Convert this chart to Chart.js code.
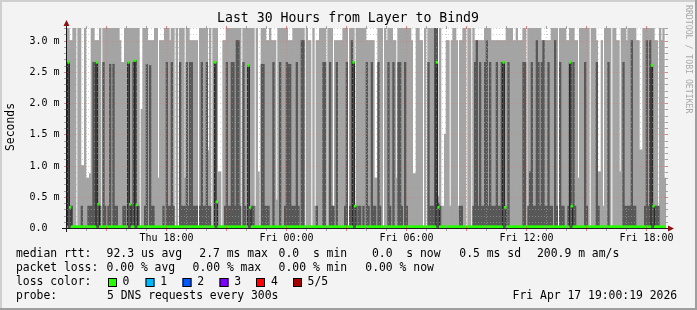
<!DOCTYPE html>
<html>
<head>
<meta charset="utf-8">
<script src="https://cdn.jsdelivr.net/npm/chart.js@4.4.1/dist/chart.umd.min.js"></script>
<style>
  html, body { margin: 0; padding: 0; background: #f3f3f3; }
  #wrap { width: 697px; height: 310px; }
</style>
</head>
<body>
<div id="wrap"><canvas id="rrd" width="697" height="310"></canvas></div>
<script>
// 360 steps of 5 minutes, Thu 13:00 -> Fri 19:00, values in ms
// smokeMax = slowest ping (top of light smoke), smokeInner = 4th ping (top of dark smoke)
var smokeMax = [
  3.4,3.4,3.0,3.0,3.4,3.4,0,3.4,3.4,1.0, 1.0,3.4,0.8,0.8,0.87,3.4,3.4,3.0,3.0,3.0,
  3.4,0,3.4,3.4,3.4,3.4,3.4,3.4,3.4,3.4, 3.4,3.4,3.0,2.65,2.65,3.4,3.4,3.4,3.4,3.4,
  3.4,3.4,3.4,3.4,0,1.9,3.4,3.4,3.4,3.0, 3.0,3.0,3.0,3.4,3.4,0.8,3.0,3.0,3.0,3.4,
  3.4,3.4,3.0,3.4,3.4,0,3.4,0,3.4,3.4, 3.4,0.8,3.4,3.4,3.0,3.0,3.0,3.0,3.0,0,
  3.4,3.4,3.4,3.4,3.4,1.24,3.4,0,3.4,3.4, 3.4,0.9,0.9,0,3.0,3.0,3.4,3.4,3.4,3.4,
  3.4,3.4,3.4,3.4,3.4,0,3.4,3.4,3.4,3.4, 3.4,3.4,3.4,0.35,3.4,0.9,0,3.4,3.4,3.4,
  3.0,3.0,3.4,3.0,3.0,3.0,0.45,3.4,3.4,3.4, 3.4,3.4,3.4,3.0,3.0,3.0,3.4,3.4,3.4,3.4,
  3.4,3.4,3.4,0,3.4,3.0,3.0,0,3.4,0.35, 3.0,3.0,3.4,3.4,3.4,3.4,0,3.4,3.4,3.4,
  0.35,3.0,3.0,3.0,3.0,3.0,3.4,3.4,3.4,0, 3.4,3.4,3.4,0.36,3.4,3.4,3.4,3.4,3.4,3.4,
  3.0,3.0,3.0,3.0,3.0,0.8,0.8,3.4,3.4,3.4, 0,3.4,3.0,3.4,3.4,3.4,3.0,3.0,0.8,3.4,
  3.4,3.4,3.4,3.4,3.4,3.4,3.4,3.0,0.87,0.87, 3.4,3.4,3.0,3.0,0,3.4,0,3.4,3.4,3.4,
  3.4,3.4,3.4,0.5,3.4,0.35,0.35,1.5,3.0,3.0, 0.35,3.0,3.4,3.4,3.0,0.35,3.0,3.0,3.4,3.4,
  0,3.4,3.4,0,3.4,3.0,3.0,3.0,3.0,3.0, 3.0,3.4,3.4,3.4,3.4,3.0,3.0,3.0,3.0,3.0,
  3.0,3.0,3.0,3.0,3.4,3.4,3.4,3.4,3.0,3.0, 3.4,3.0,3.0,3.0,3.4,3.4,0,3.4,3.4,3.4,
  3.4,3.4,3.4,3.4,3.4,3.0,3.0,3.0,3.0,3.0, 3.0,3.4,3.4,3.4,3.4,0,3.4,3.4,3.4,3.4,
  3.0,3.0,3.4,3.4,3.4,3.0,3.0,0.8,3.4,3.4, 3.4,3.4,3.4,3.4,0,3.4,3.4,3.4,3.0,0.9,
  0.9,3.0,0.35,3.4,3.4,3.4,3.4,0,3.4,3.4, 3.0,3.0,0.9,3.4,3.4,3.4,3.0,3.4,3.4,3.4,
  3.4,3.4,3.0,3.0,1.25,1.25,3.4,3.4,3.4,3.4, 3.4,3.4,3.4,3.0,3.0,0.35,3.4,3.0,3.4,0.8
];
var smokeInner = [
  2.65,2.65,0.35,0.35,0.02,0.02,0,0.02,0.02,0.35, 0.02,0.02,0.02,0.35,0.35,0.35,2.65,2.65,2.65,0.38,
  0.35,0,2.65,0.35,0.02,0.35,2.62,0.02,2.62,0.35, 0.35,0.02,0.02,0.02,0.35,0.35,0.02,2.65,0.38,0.35,
  2.65,2.68,0.37,0.35,0,0.02,0.02,0.35,2.62,0.02, 2.6,0.35,0.35,0.02,0.02,0.02,0.02,0.02,0.35,0.02,
  2.65,0.35,0.35,2.65,0.35,0,0.02,0,2.65,0.35, 0.35,0.35,2.65,0.35,2.65,2.65,0.35,0.35,0.35,0,
  0.35,2.65,0.35,0.35,2.65,0.35,0.35,0,0.02,2.65, 0.42,0.02,0.02,0,0.02,0.35,2.65,0.35,0.35,2.65,
  2.65,0.35,3.0,3.0,0.35,0,2.65,0.35,0.02,2.6, 0.33,0.35,0.35,0.02,0.02,0.02,0,2.62,2.62,0.35,
  0.35,0.35,0.02,0.02,2.65,0.02,0.02,0.02,2.65,0.02, 0.02,0.35,2.65,2.62,2.62,0.35,0.35,0.35,2.65,0.35,
  0.02,3.0,3.0,0,0.02,0.02,0.02,0,0.02,0.02, 0.35,0.02,0.02,0.02,2.65,2.65,0,0.02,2.65,0.35,
  0.35,0.02,2.65,0.02,0.02,0.02,0.02,0.35,2.65,0, 0.35,3.0,2.65,0.35,0.02,0.35,0.35,0.02,0.35,0.02,
  2.65,0.35,0.02,2.65,0.35,0.35,0.02,2.65,0.35,0.02, 0,0.02,0.02,2.65,0.35,0.02,2.65,0.02,0.02,2.65,
  2.65,0.35,0.02,2.65,0.35,0.02,0.02,0.02,0.02,0.02, 0.02,0.02,0.02,0.02,0,0.02,0,2.65,0.35,0.35,
  0.35,3.4,3.4,0.4,0.35,0.02,0.02,0.02,0.02,0.02, 0.02,0.02,0.02,0.02,0.02,0.02,0.35,0.35,0.02,0.02,
  0,0.02,0.02,0,0.35,2.65,3.0,0.35,2.65,0.35, 0.35,2.65,3.0,0.35,2.65,0.35,0.35,0.35,2.65,0.35,
  0.35,2.65,2.65,0.35,0.02,2.65,0.02,0.02,0.02,0.02, 0.02,0.02,0.02,0.02,2.65,2.65,0,0.35,0.9,2.65,
  0.35,0.35,3.0,2.65,0.35,2.65,3.0,0.35,0.35,2.65, 0.35,0.35,0.02,3.0,0.35,0,2.65,0.35,0.35,0.02,
  0.02,0.35,2.65,0.35,2.65,0.35,0.02,0.02,0.02,0.02, 0.02,2.65,0.35,0.02,0,0.02,0.02,0.02,2.65,0.35,
  0.02,0.02,0.02,0.02,0.02,2.65,0.02,0,0.02,0.02, 0.02,0.02,0.02,0.02,2.65,0.35,0.35,0.35,0.35,3.0,
  0.35,0.35,0.02,0.02,0.02,0.02,0.02,0.35,3.0,0.35, 3.0,2.6,0.35,0.35,0.35,0.35,0.02,0.02,0.02,0.02
];
var medianRtt = [
  0.02,2.65,0.33,0.02,0.02,0.02,0.02,0.02,0.02,0.02, 0.02,0.02,0.02,0.02,0.02,0.02,0.02,0.02,2.65,0.38,
  0.02,0.02,0.02,0.02,0.02,0.02,0.02,0.02,0.02,0.02, 0.02,0.02,0.02,0.02,0.02,0.02,0.02,2.65,0.38,0.02,
  0.02,2.68,0.37,0.02,0.02,0.02,0.02,0.02,0.02,0.02, 0.02,0.02,0.02,0.02,0.02,0.02,0.02,0.02,0.02,0.02,
  0.02,0.02,0.02,0.02,0.02,0.02,0.02,0.02,0.02,0.02, 0.02,0.02,0.02,0.02,0.02,0.02,0.02,0.02,0.02,0.02,
  0.02,0.02,0.02,0.02,0.02,0.02,0.02,0.02,0.02,2.65, 0.42,0.02,0.02,0.02,0.02,0.02,0.02,0.02,0.02,0.02,
  0.02,0.02,0.02,0.02,0.02,0.02,0.02,0.02,0.02,2.6, 0.33,0.02,0.02,0.02,0.02,0.02,0.02,0.02,0.02,0.02,
  0.02,0.02,0.02,0.02,0.02,0.02,0.02,0.02,0.02,0.02, 0.02,0.02,0.02,0.02,0.02,0.02,0.02,0.02,0.02,0.02,
  0.02,0.02,0.02,0.02,0.02,0.02,0.02,0.02,0.02,0.02, 0.02,0.02,0.02,0.02,0.02,0.02,0.02,0.02,0.02,0.02,
  0.02,0.02,0.02,0.02,0.02,0.02,0.02,0.02,0.02,0.02, 0.02,0.02,2.65,0.35,0.02,0.02,0.02,0.02,0.02,0.02,
  0.02,0.02,0.02,0.02,0.02,0.02,0.02,0.02,0.02,0.02, 0.02,0.02,0.02,0.02,0.02,0.02,0.02,0.02,0.02,0.02,
  0.02,0.02,0.02,0.02,0.02,0.02,0.02,0.02,0.02,0.02, 0.02,0.02,0.02,0.02,0.02,0.02,0.02,0.02,0.02,0.02,
  0.02,0.02,2.65,0.33,0.02,0.02,0.02,0.02,0.02,0.02, 0.02,0.02,0.02,0.02,0.02,0.02,0.02,0.02,0.02,0.02,
  0.02,0.02,0.02,0.02,0.02,0.02,0.02,0.02,0.02,0.02, 0.02,0.02,0.02,0.02,0.02,0.02,0.02,0.02,0.02,0.02,
  0.02,0.02,2.65,0.33,0.02,0.02,0.02,0.02,0.02,0.02, 0.02,0.02,0.02,0.02,0.02,0.02,0.02,0.02,0.02,0.02,
  0.02,0.02,0.02,0.02,0.02,0.02,0.02,0.02,0.02,0.02, 0.02,0.02,0.02,0.02,0.02,0.02,0.02,0.02,0.02,0.02,
  0.02,0.02,2.65,0.35,0.02,0.02,0.02,0.02,0.02,0.02, 0.02,0.02,0.02,0.02,0.02,0.02,0.02,0.02,0.02,0.02,
  0.02,0.02,0.02,0.02,0.02,0.02,0.02,0.02,0.02,0.02, 0.02,0.02,0.02,0.02,0.02,0.02,0.02,0.02,0.02,0.02,
  0.02,0.02,0.02,0.02,0.02,0.02,0.02,0.02,0.02,0.02, 0.02,2.6,0.35,0.02,0.02,0.02,0.02,0.02,0.02,0.02
];

var timeTicks = ['Thu 18:00', 'Fri 00:00', 'Fri 06:00', 'Fri 12:00', 'Fri 18:00'];
var timeTickSteps = [60, 132, 204, 276, 348];
var yTicks = [0, 0.5, 1.0, 1.5, 2.0, 2.5, 3.0];
var yTickLabels = ['0.0', '0.5 m', '1.0 m', '1.5 m', '2.0 m', '2.5 m', '3.0 m'];

var lossLabels = ['0', '1', '2', '3', '4', '5/5'];
var lossColors = ['#26ff00', '#00b8ff', '#0059ff', '#7e00ff', '#ff0000', '#a10000'];

var steps = [];
for (var i = 0; i < smokeMax.length; i++) steps.push(String(i));

var halfMark = 0.016;  // half height of the median marker, about one pixel
var medianMarks = medianRtt.map(function (m) { return [m - halfMark, m + halfMark]; });

var MONO = "'DejaVu Sans Mono', 'Liberation Mono', monospace";

function stepEdge(chart, n) {
  var xs = chart.scales.x;
  var w = xs.getPixelForValue(1) - xs.getPixelForValue(0);
  return xs.getPixelForValue(n) - w / 2;
}

var rrdLook = {
  id: 'rrdLook',
  beforeDraw: function (chart) {
    var c = chart.ctx, a = chart.chartArea;
    c.save();
    c.fillStyle = '#f3f3f3';
    c.fillRect(0, 0, 697, 310);
    c.fillStyle = '#cfcfcf';
    c.fillRect(0, 0, 697, 2);
    c.fillRect(0, 0, 2, 310);
    c.fillStyle = '#9e9e9e';
    c.fillRect(0, 308, 697, 2);
    c.fillRect(695, 0, 2, 310);
    c.fillStyle = '#ffffff';
    c.fillRect(a.left, a.top, a.right - a.left, a.bottom - a.top);
    c.restore();
  },
  afterDatasetsDraw: function (chart) {
    var c = chart.ctx, a = chart.chartArea, ys = chart.scales.y;
    var minor = 'rgba(170,170,170,0.55)', major = 'rgba(222,110,110,0.4)';
    var minorTick = 'rgba(143,143,143,0.8)', majorTick = 'rgba(222,79,79,0.7)';
    c.save();
    c.lineWidth = 1;
    // horizontal grid every 0.1 ms, red each 0.5 ms
    for (var t = 1; t <= 32; t++) {
      var y = Math.round(ys.getPixelForValue(t / 10)) + 0.5;
      var isMajor = (t % 5 === 0);
      c.strokeStyle = isMajor ? majorTick : minorTick;
      c.setLineDash([]);
      c.beginPath();
      c.moveTo(a.left - 2, y); c.lineTo(a.left + 1, y);
      c.moveTo(a.right - 1, y); c.lineTo(a.right + 2, y);
      c.stroke();
      c.strokeStyle = isMajor ? major : minor;
      c.setLineDash([1, 2]);
      c.beginPath();
      c.moveTo(a.left + 1, y); c.lineTo(a.right - 1, y);
      c.stroke();
    }
    // vertical grid every hour, red every 3 hours
    for (var n = 12; n < 360; n += 12) {
      var x = Math.round(stepEdge(chart, n)) + 0.5;
      var isMaj = ((n - 24) % 36 === 0);
      c.strokeStyle = isMaj ? majorTick : minorTick;
      c.setLineDash([]);
      c.beginPath();
      c.moveTo(x, a.bottom + 3); c.lineTo(x, a.bottom - 1);
      c.moveTo(x, a.top + 1); c.lineTo(x, a.top - 2);
      c.stroke();
      c.strokeStyle = isMaj ? major : minor;
      c.setLineDash([1, 2]);
      c.beginPath();
      c.moveTo(x, a.bottom - 1); c.lineTo(x, a.top + 1);
      c.stroke();
    }
    c.setLineDash([]);
    // axes
    c.strokeStyle = '#1a1a1a';
    c.beginPath();
    c.moveTo(a.left - 4, a.bottom + 0.5); c.lineTo(a.right + 3, a.bottom + 0.5);
    c.moveTo(a.left + 0.5, a.bottom + 4); c.lineTo(a.left + 0.5, a.top - 3);
    c.stroke();
    c.fillStyle = '#8f1010';
    c.beginPath();
    c.moveTo(a.left - 2.5, a.top - 2); c.lineTo(a.left + 3.5, a.top - 2); c.lineTo(a.left + 0.5, a.top - 8);
    c.closePath(); c.fill();
    c.beginPath();
    c.moveTo(a.right + 2, a.bottom - 2.5); c.lineTo(a.right + 2, a.bottom + 3.5); c.lineTo(a.right + 8, a.bottom + 0.5);
    c.closePath(); c.fill();
    c.restore();
  },
  afterDraw: function (chart) {
    var c = chart.ctx, ys = chart.scales.y;
    c.save();
    c.fillStyle = '#000000';
    c.textBaseline = 'middle';
    // title
    c.font = '13.2px ' + MONO;
    c.textAlign = 'center';
    c.fillText('Last 30 Hours from Layer to Bind9', 348, 19);
    // axis labels
    c.font = '10px ' + MONO;
    c.textAlign = 'left';
    for (var i = 0; i < yTicks.length; i++) {
      c.fillText(yTickLabels[i], 29.5, Math.round(ys.getPixelForValue(yTicks[i])) + 0.5);
    }
    c.textAlign = 'center';
    for (var j = 0; j < timeTicks.length; j++) {
      c.fillText(timeTicks[j], stepEdge(chart, timeTickSteps[j]) + 0.5, 238);
    }
    // vertical unit label
    c.font = '11.4px ' + MONO;
    c.save();
    c.translate(11, 127);
    c.rotate(-Math.PI / 2);
    c.fillText('Seconds', 0, 0);
    c.restore();
    // watermark
    c.save();
    c.font = '8.2px ' + MONO;
    c.fillStyle = '#a8a8a8';
    c.translate(688, 5);
    c.rotate(Math.PI / 2);
    c.textAlign = 'left';
    c.fillText('RRDTOOL / TOBI OETIKER', 0, 0);
    c.restore();
    // legend rows
    c.font = '11.4px ' + MONO;
    c.textAlign = 'left';
    var rows = [
      [254, [['median rtt:', 16], ['92.3 us avg', 106.6], ['2.7 ms max', 199.3], ['0.0  s min', 278.6],
             ['0.0  s now', 372], ['0.5 ms sd', 459.3], ['200.9 m am/s', 537]]],
      [268, [['packet loss:', 16], ['0.00 % avg', 106.6], ['0.00 % max', 192.6], ['0.00 % min', 278.6],
             ['0.00 % now', 365.3]]],
      [282, [['loss color:', 16]]],
      [296, [['probe:', 16], ['5 DNS requests every 300s', 107], ['Fri Apr 17 19:00:19 2026', 512.6]]]
    ];
    rows.forEach(function (r) {
      r[1].forEach(function (it) { c.fillText(it[0], it[1], r[0]); });
    });
    var boxX = [108, 145.5, 182.5, 219.5, 256, 293];
    var labX = [122.6, 160.3, 197.3, 234.3, 271, 307.6];
    for (var k = 0; k < lossLabels.length; k++) {
      c.fillStyle = lossColors[k];
      c.fillRect(boxX[k], 278, 9, 9);
      c.strokeStyle = '#000000';
      c.lineWidth = 1;
      c.strokeRect(boxX[k] + 0.5, 278.5, 8, 8);
      c.fillStyle = '#000000';
      c.fillText(lossLabels[k], labX[k], 282);
    }
    c.restore();
  }
};

var chart = new Chart(document.getElementById('rrd'), {
  type: 'bar',
  data: {
    labels: steps,
    datasets: [
      { label: 'median', data: medianMarks, backgroundColor: '#26ff00', grouped: false, order: 0,
        barPercentage: 1, categoryPercentage: 1, borderWidth: 0 },
      { type: 'line', label: 'median line', data: medianRtt, borderColor: '#202020', borderWidth: 1,
        stepped: 'middle', pointRadius: 0, fill: false, order: 1 },
      { label: 'inner smoke', data: smokeInner, backgroundColor: '#585858', grouped: false, order: 2,
        barPercentage: 1, categoryPercentage: 1, borderWidth: 0 },
      { label: 'outer smoke', data: smokeMax, backgroundColor: '#a4a4a4', grouped: false, order: 3,
        barPercentage: 1, categoryPercentage: 1, borderWidth: 0 }
    ]
  },
  options: {
    responsive: false,
    animation: false,
    layout: { padding: { left: 66, right: 31, top: 28, bottom: 82 } },
    plugins: { legend: { display: false }, tooltip: { enabled: false } },
    scales: {
      x: { display: false },
      y: { display: false, min: 0, max: 3.2 }
    }
  },
  plugins: [rrdLook]
});
</script>
</body>
</html>
